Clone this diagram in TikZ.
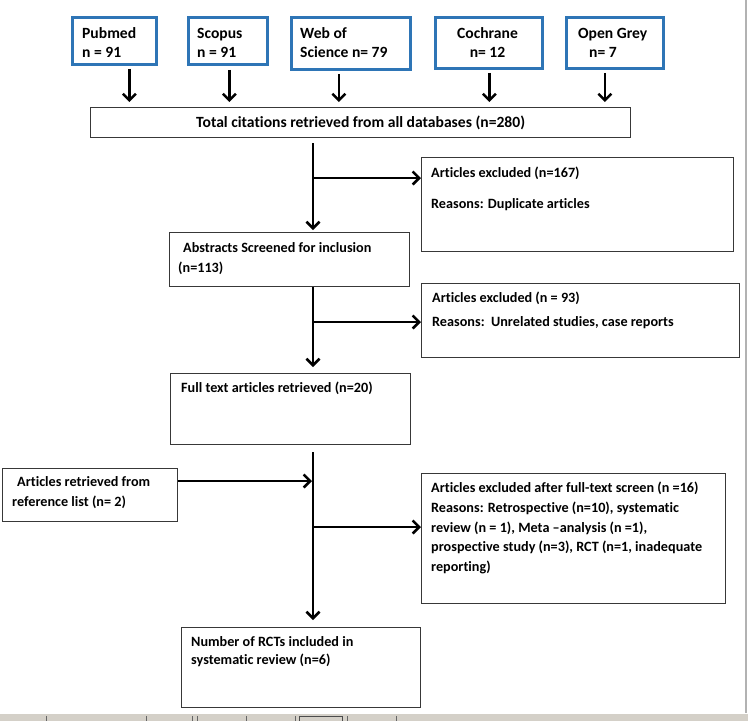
\documentclass[tikz,border=0pt]{standalone}
\usepackage{fontspec}
\setmainfont{Carlito}[Ligatures=NoCommon]
\usetikzlibrary{arrows.meta}
\definecolor{wblue}{HTML}{2E75B6}
\definecolor{bord}{HTML}{383838}
\definecolor{barg}{HTML}{D4D0C8}
\begin{document}
\begin{tikzpicture}[x=1pt,y=-1pt,
  font=\bfseries\fontsize{14.2}{17}\selectfont,
  bigf/.style={font=\bfseries\fontsize{15.6}{18}\selectfont},
  bx/.style={draw=bord, line width=1.3pt, anchor=north west, inner sep=0pt},
  dbx/.style={draw=wblue, line width=2.8pt, anchor=north west, inner sep=0pt},
  txt/.style={anchor=base west, inner sep=0pt},
  ctxt/.style={anchor=base, inner sep=0pt},
  arr/.style={line width=2.5pt, -{Straight Barb[length=6.5pt,width=13pt,line width=2.5pt]}}]
\useasboundingbox (0,0) rectangle (748,721);
\fill[white] (0,0) rectangle (748,721);
% screen artefacts
\fill[barg] (0,713) rectangle (748,721);
\draw[white, line width=1pt] (0,713.5) -- (748,713.5);
\draw[gray!60, line width=1.5pt] (746,0) -- (746,713);
\foreach \xx in {46,146,192,197,246,295,347,396}
  \draw[black!60, line width=0.8pt] (\xx,716) -- (\xx,721);
\draw[black!70, line width=0.8pt] (299,721) -- (299,716) -- (342,716) -- (342,721);

% database boxes
\node[dbx, minimum width=84pt, minimum height=47pt] (pub) at (71,16) {};
\node[dbx, minimum width=79pt, minimum height=47pt] (sco) at (187,16) {};
\node[dbx, minimum width=119pt, minimum height=52pt] (wos) at (290,16) {};
\node[dbx, minimum width=107pt, minimum height=51pt] (coc) at (434,16) {};
\node[dbx, minimum width=97pt, minimum height=51pt] (ogr) at (565,16) {};
\node[txt, bigf] (pubt1) at (82,38) {Pubmed};
\node[txt, bigf] (pubt2) at (82,57) {n = 91};
\node[txt, bigf] (scot1) at (197,38) {Scopus};
\node[txt, bigf] (scot2) at (197,57) {n = 91};
\node[txt, bigf] (wost1) at (300,38) {Web of};
\node[txt, bigf] (wost2) at (300,57) {Science n= 79};
\node[ctxt, bigf] (coct1) at (487.5,38) {Cochrane};
\node[ctxt, bigf] (coct2) at (487.5,57) {n= 12};
\node[txt, bigf] (ogrt1) at (578,38) {Open Grey};
\node[txt, bigf] (ogrt2) at (589,57) {n= 7};

% total
\node[bx, minimum width=540pt, minimum height=30pt] (tot) at (90,107) {};
\node[ctxt, bigf] (tott) at ([yshift=-5pt]tot.center) {Total citations retrieved from all databases (n=280)};

% boxes
\node[bx, minimum width=312pt, minimum height=94pt] (ex1) at (421,157) {};
\node[txt] (ex1a) at (431,177.5) {Articles excluded (n=167)};
\node[txt] (ex1b) at (431,208.5) {Reasons: Duplicate articles};

\node[bx, minimum width=240pt, minimum height=54pt] (abs) at (169,232) {};
\node[txt] (absa) at (183,252.5) {Abstracts Screened for inclusion};
\node[txt] (absb) at (178,272.5) {(n=113)};

\node[bx, minimum width=318pt, minimum height=74pt] (ex2) at (421,283) {};
\node[txt] (ex2a) at (432,302.5) {Articles excluded (n = 93)};
\node[txt] (ex2b) at (432,326.5) {Reasons:\ \ Unrelated studies, case reports};

\node[bx, minimum width=240pt, minimum height=71pt] (full) at (170,373) {};
\node[txt] (fullt) at (181,392.5) {Full text articles retrieved (n=20)};

\node[bx, minimum width=175pt, minimum height=53pt] (ref) at (2,468) {};
\node[txt] (refa) at (17,486.5) {Articles retrieved from};
\node[txt] (refb) at (12,506.5) {reference list (n= 2)};

\node[bx, minimum width=304pt, minimum height=130pt] (ex3) at (421,473) {};
\node[txt] (ex3a) at (431,492.5) {Articles excluded after full-text screen (n =16)};
\node[txt] (ex3b) at (431,512.5) {Reasons: Retrospective (n=10), systematic};
\node[txt] (ex3c) at (431,532) {review (n = 1), Meta --analysis (n =1),};
\node[txt] (ex3d) at (431,551.5) {prospective study (n=3), RCT (n=1, inadequate};
\node[txt] (ex3e) at (431,571) {reporting)};

\node[bx, minimum width=239pt, minimum height=80pt] (fin) at (181,627) {};
\node[txt] (fina) at (191,646.5) {Number of RCTs included in};
\node[txt] (finb) at (191,664.5) {systematic review (n=6)};

% connectors
\coordinate (ty) at (0,102);
\path ([xshift=15pt,yshift=-3pt]pub.south) coordinate (a1);
\path ([xshift=1.5pt,yshift=-4pt]sco.south) coordinate (a2);
\path ([xshift=-12pt,yshift=-3pt]wos.south) coordinate (a3);
\path ([xshift=0.5pt,yshift=-3pt]coc.south) coordinate (a4);
\path ([xshift=-10pt,yshift=-3pt]ogr.south) coordinate (a5);
\foreach \a in {a1,a2,a3,a4,a5}
  \draw[arr] (\a) -- (\a |- ty);

\coordinate (sp) at (313,0);
\draw[arr] ([yshift=-5pt]tot.south -| sp) -- ([yshift=2pt]abs.north -| sp);
\coordinate (b1) at (313,178);
\draw[arr] (b1) -- (b1 -| ex1.west);

\draw[arr] (abs.south -| sp) -- ([yshift=6pt]full.north -| sp);
\coordinate (b2) at (313,322);
\draw[arr] (b2) -- (b2 -| ex2.west);

\draw[arr] ([yshift=-7pt]full.south -| sp) -- ([yshift=7pt]fin.north -| sp);
\coordinate (ry) at (0,481);
\draw[arr] (ref.east |- ry) -- ([xshift=-1pt]sp |- ry);
\coordinate (b3) at (313,527);
\draw[arr] (b3) -- (b3 -| ex3.west);
\end{tikzpicture}
\end{document}
